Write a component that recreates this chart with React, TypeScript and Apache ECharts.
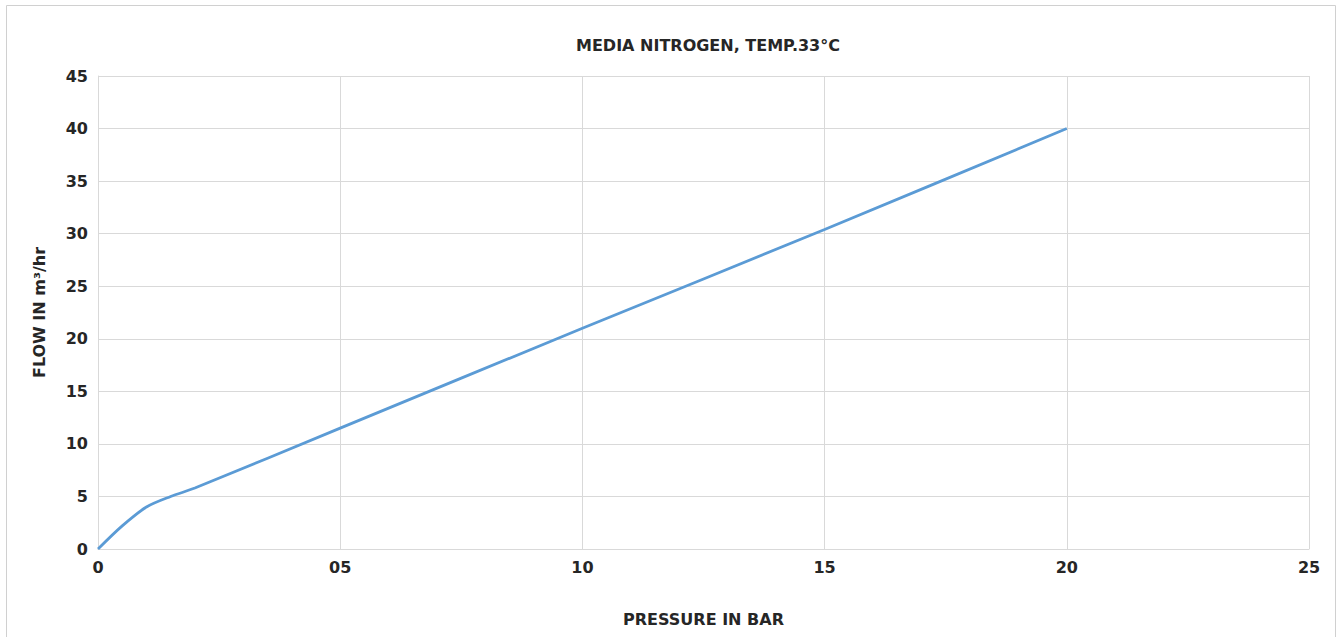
import React, { useEffect, useRef } from "react";
import * as echarts from "echarts";

const pressure = [0, 0.5, 1, 1.5, 2, 5, 10, 15, 20];
const flow = [0, 2.2, 4, 5, 5.8, 11.5, 21, 30.4, 40];
const xTickLabels = ["0", "05", "10", "15", "20", "25"];
const yTicks = [0, 5, 10, 15, 20, 25, 30, 35, 40, 45];

export default function App() {
  const ref = useRef<HTMLDivElement>(null);
  useEffect(() => {
    if (!ref.current) return;
    const chart = echarts.init(ref.current, null, { renderer: "svg" });
    const font = "'DejaVu Sans', sans-serif";
    chart.setOption({
      animation: false,
      backgroundColor: "#ffffff",
      title: {
        text: "MEDIA NITROGEN, TEMP.33°C",
        left: 703,
        textAlign: "center",
        top: 32,
        textStyle: { fontFamily: font, fontWeight: "bold", fontSize: 16, color: "#262626" },
      },
      graphic: [
        {
          type: "rect",
          shape: { x: 6.5, y: 5.5, width: 1329, height: 650 },
          style: { fill: "none", stroke: "#d0d0d0", lineWidth: 1 },
          silent: true,
          z: -1,
        },
      ],
      grid: { left: 98, right: 28, top: 76, bottom: 88, containLabel: false },
      xAxis: {
        type: "value",
        min: 0,
        max: 25,
        interval: 5,
        name: "PRESSURE IN BAR",
        nameLocation: "middle",
        nameGap: 62,
        nameTextStyle: { fontFamily: font, fontWeight: "bold", fontSize: 16, color: "#262626" },
        axisLine: { show: true, lineStyle: { color: "#d9d9d9", width: 1 } },
        axisTick: { show: false },
        axisLabel: {
          margin: 10,
          fontFamily: font,
          fontWeight: "bold",
          fontSize: 16,
          color: "#262626",
          formatter: (v: number) => xTickLabels[Math.round(v / 5)] ?? String(v),
        },
        splitLine: { show: true, lineStyle: { color: "#d9d9d9", width: 1 } },
      },
      yAxis: {
        type: "value",
        min: yTicks[0],
        max: yTicks[yTicks.length - 1],
        interval: 5,
        name: "FLOW IN m³/hr",
        nameLocation: "middle",
        nameGap: 51,
        nameTextStyle: { fontFamily: font, fontWeight: "bold", fontSize: 16, color: "#262626" },
        axisLine: { show: true, lineStyle: { color: "#d9d9d9", width: 1 } },
        axisTick: { show: false },
        axisLabel: {
          margin: 10,
          fontFamily: font,
          fontWeight: "bold",
          fontSize: 16,
          color: "#262626",
        },
        splitLine: { show: true, lineStyle: { color: "#d9d9d9", width: 1 } },
      },
      series: [
        {
          type: "line",
          data: pressure.map((p, i) => [p, flow[i]]),
          smooth: 0.3,
          showSymbol: false,
          lineStyle: { color: "#5b9bd5", width: 2.75 },
          itemStyle: { color: "#5b9bd5" },
        },
      ],
    });
    return () => chart.dispose();
  }, []);
  return (
    <div
      ref={ref}
      style={{ position: "absolute", left: 0, top: 0, width: 1337, height: 637 }}
    />
  );
}
